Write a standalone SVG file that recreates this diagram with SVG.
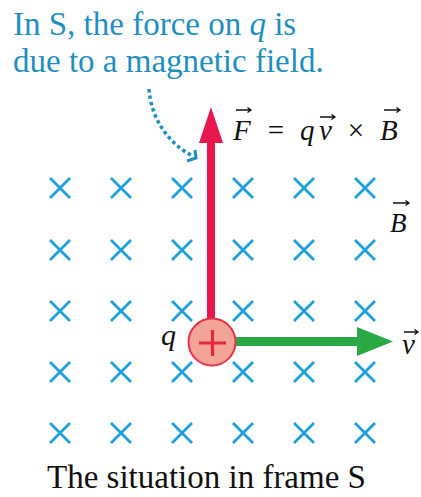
<svg xmlns="http://www.w3.org/2000/svg" width="421" height="497" viewBox="0 0 421 497">
<style>
text{font-family:"Liberation Serif","Times New Roman","DejaVu Serif",serif}
.cap{fill:#1f8fc0;font-size:33px}
.m{fill:#111;font-size:29px}
.it{font-style:italic}
.x{stroke:#1ea0dc;stroke-width:2.8;fill:none;stroke-linecap:butt}
.va{stroke:#111;stroke-width:1.3;fill:none}
</style>
<defs>
<path id="cross" class="x" d="M-10,-10L10,10M10,-10L-10,10"/>
</defs>
<rect width="421" height="497" fill="#fff"/>
<g id="field">
<use href="#cross" x="60" y="188"/><use href="#cross" x="121" y="188"/><use href="#cross" x="182" y="188"/><use href="#cross" x="243" y="188"/><use href="#cross" x="304" y="188"/><use href="#cross" x="365" y="188"/>
<use href="#cross" x="60" y="250"/><use href="#cross" x="121" y="250"/><use href="#cross" x="182" y="250"/><use href="#cross" x="243" y="250"/><use href="#cross" x="304" y="250"/><use href="#cross" x="365" y="250"/>
<use href="#cross" x="60" y="311"/><use href="#cross" x="121" y="311"/><use href="#cross" x="182" y="311"/><use href="#cross" x="243" y="311"/><use href="#cross" x="304" y="311"/><use href="#cross" x="365" y="311"/>
<use href="#cross" x="60" y="372"/><use href="#cross" x="121" y="372"/><use href="#cross" x="182" y="372"/><use href="#cross" x="243" y="372"/><use href="#cross" x="304" y="372"/><use href="#cross" x="365" y="372"/>
<use href="#cross" x="60" y="433"/><use href="#cross" x="121" y="433"/><use href="#cross" x="182" y="433"/><use href="#cross" x="243" y="433"/><use href="#cross" x="304" y="433"/><use href="#cross" x="365" y="433"/>
</g>
<g id="caption">
<text class="cap" x="13" y="35">In S, the force on <tspan class="it">q</tspan> is</text>
<text class="cap" x="13" y="72">due to a magnetic field.</text>
</g>
<g id="connectors">
<path d="M149,89 C151,118 168,143 191,155" fill="none" stroke="#1f8fc0" stroke-width="3.5" stroke-dasharray="3.5 3"/>
<path d="M187,161 L196,158 L195,150" fill="none" stroke="#1f8fc0" stroke-width="3"/>
<path id="force" d="M211,318 V140" stroke="#e8174e" stroke-width="8" fill="none"/>
<polygon points="211,107 223,143 199,143" fill="#e8174e"/>
<path id="velocity" d="M234,341.5 H360" stroke="#2aa846" stroke-width="9" fill="none"/>
<polygon points="393,341.5 357,327 357,356" fill="#2aa846"/>
</g>
<g id="charge">
<circle cx="212" cy="342" r="23.5" fill="#f3a397" stroke="#e3334a" stroke-width="2"/>
<path d="M199,343 H226 M212.5,330 V356" stroke="#e02a3e" stroke-width="3.2"/>
<text class="m it" x="161" y="345" style="font-size:30px">q</text>
</g>
<g id="equation">
<text class="m it" x="233" y="140">F</text>
<text class="m" x="276" y="140" text-anchor="middle">=</text>
<text class="m it" x="300" y="140">q</text>
<text class="m it" x="319" y="140">v</text>
<text class="m" x="356" y="140" text-anchor="middle">×</text>
<text class="m it" x="380" y="140">B</text>
<path class="va" d="M236,110H251M247.5,107.5L251,110L247.5,112.5"/>
<path class="va" d="M320,117H335M331.5,114.5L335,117L331.5,119.5"/>
<path class="va" d="M384,110H400M396.5,107.5L400,110L396.5,112.5"/>
</g>
<g id="Blabel">
<text class="m it" x="390" y="232" style="font-size:27px">B</text>
<path class="va" d="M393,203H409M405.5,200.5L409,203L405.5,205.5"/>
</g>
<g id="vlabel">
<text class="m it" x="402" y="354">v</text>
<path class="va" d="M404,332H418M414.5,329.5L418,332L414.5,334.5"/>
</g>
<g id="title">
<text class="m" x="47" y="488" style="font-size:33px">The situation in frame S</text>
</g>
</svg>
